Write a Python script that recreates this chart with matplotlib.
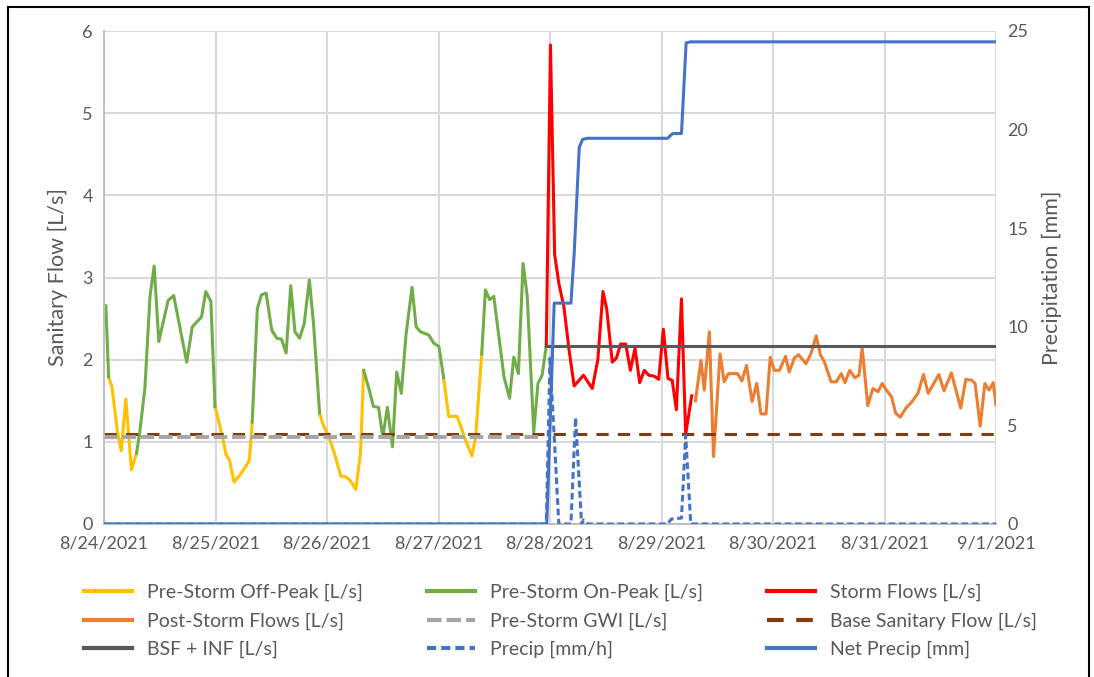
import numpy as np
import matplotlib
matplotlib.use('Agg')
import matplotlib.pyplot as plt
import matplotlib.dates as mdates
from matplotlib.patches import Rectangle
from datetime import datetime

plt.rcParams['font.family'] = ['Lato', 'DejaVu Sans']

start = datetime(2021, 8, 24)

# Flow series: each inner list is one continuous run, times in hours from 8/24 00:00
offpeak_hours = [[1.0, 1.7, 2.9, 3.7, 4.7, 5.9, 7.0],
                 [23.9, 25.0, 26.3, 27.0, 28.0, 29.3, 30.5, 31.3, 31.9],
                 [46.4, 47.2, 48.3, 49.8, 51.0, 51.9, 53.0, 54.2, 55.2, 55.9],
                 [73.1, 74.2, 76.0, 77.1, 77.8, 79.2, 80.0, 81.3]]
offpeak_flow = [[1.79, 1.67, 1.12, 0.89, 1.52, 0.66, 0.86],
                [1.43, 1.18, 0.84, 0.78, 0.51, 0.60, 0.70, 0.78, 1.24],
                [1.35, 1.20, 1.08, 0.82, 0.58, 0.58, 0.53, 0.42, 0.86, 1.87],
                [1.78, 1.31, 1.31, 1.14, 1.02, 0.83, 1.06, 2.07]]

onpeak_hours = [[0.0, 0.4, 1.0],
                [7.0, 7.7, 8.8, 9.9, 10.8, 11.8, 13.8, 15.0, 17.8, 19.0, 21.0, 21.9, 23.0, 23.9],
                [31.9, 33.0, 33.9, 34.9, 36.1, 37.2, 38.2, 39.2, 40.2, 41.1, 42.1, 43.1, 44.2, 45.1, 46.4],
                [55.9, 57.1, 58.0, 59.1, 60.0, 61.0, 62.1, 63.0, 64.0, 65.0, 66.3, 67.2, 68.1, 69.9,
                 71.0, 72.1, 73.1],
                [81.3, 82.1, 83.0, 83.9, 85.0, 86.1, 87.3, 88.2, 89.2, 90.2, 91.1, 92.5, 93.4, 94.3, 95.2]]
onpeak_flow = [[2.60, 2.66, 1.79],
               [0.86, 1.12, 1.65, 2.77, 3.14, 2.22, 2.72, 2.78, 1.97, 2.40, 2.52, 2.83, 2.71, 1.43],
               [1.24, 2.62, 2.79, 2.81, 2.36, 2.26, 2.25, 2.08, 2.90, 2.34, 2.26, 2.44, 2.97, 2.44, 1.35],
               [1.87, 1.63, 1.43, 1.42, 1.06, 1.42, 0.94, 1.85, 1.59, 2.30, 2.88, 2.40, 2.34, 2.30,
                2.20, 2.16, 1.78],
               [2.07, 2.85, 2.73, 2.77, 2.28, 1.79, 1.53, 2.03, 1.83, 3.17, 2.77, 1.12, 1.71, 1.81, 2.17]]

storm_hours = [95.2, 96.1, 97.0, 97.9, 99.0, 100.1, 101.2, 103.2, 105.1, 106.3, 107.4, 108.2,
               109.4, 110.3, 111.2, 112.3, 113.3, 114.3, 115.3, 116.3, 117.3, 118.4, 119.4,
               120.4, 121.4, 122.3, 123.2, 124.3, 125.2, 126.5]
storm_flow = [2.17, 5.83, 3.28, 2.93, 2.64, 2.12, 1.68, 1.81, 1.65, 2.00, 2.83, 2.62,
              1.97, 2.02, 2.19, 2.19, 1.87, 2.14, 1.72, 1.87, 1.81, 1.80, 1.76,
              2.37, 1.77, 1.75, 1.39, 2.74, 1.09, 1.56]

post_hours = [127.3, 128.5, 129.2, 130.3, 131.2, 132.6, 133.5, 134.4, 136.4, 137.3, 138.3, 139.5,
              140.5, 141.4, 142.5, 143.4, 144.3, 145.4, 146.7, 147.5, 148.6, 149.5, 151.1, 152.2,
              153.3, 154.2, 155.1, 156.5, 157.6, 158.7, 159.5, 160.5, 161.6, 162.5, 163.2, 164.4,
              165.5, 166.6, 167.5, 168.4, 169.5, 170.4, 171.4, 172.6, 173.8, 175.2, 176.4, 177.4,
              179.7, 180.8, 182.4, 184.4, 185.5, 186.8, 187.5, 188.6, 189.6, 190.5, 191.4, 192.0]
post_flow = [1.50, 1.99, 1.63, 2.34, 0.82, 2.07, 1.73, 1.83, 1.83, 1.74, 1.93, 1.49,
             1.71, 1.34, 1.34, 2.03, 1.87, 1.87, 2.04, 1.85, 2.02, 2.06, 1.95, 2.08,
             2.29, 2.06, 1.97, 1.73, 1.73, 1.83, 1.72, 1.87, 1.78, 1.81, 2.14, 1.44,
             1.65, 1.61, 1.71, 1.63, 1.55, 1.35, 1.30, 1.41, 1.48, 1.59, 1.82, 1.59,
             1.82, 1.62, 1.84, 1.41, 1.76, 1.75, 1.71, 1.19, 1.71, 1.63, 1.72, 1.45]

# Reference levels
gwi_hours, gwi_flow = [0.0, 94.3], [1.06, 1.06]
bsf_hours, bsf_flow = [0.0, 192.0], [1.10, 1.10]
bsf_inf_hours, bsf_inf_flow = [95.2, 192.0], [2.17, 2.17]

# Rainfall (right axis)
precip_hours = [0.0, 95.2, 96.0, 97.0, 97.9, 100.5, 101.5, 102.8, 103.2, 104.2,
                121.3, 122.1, 124.3, 125.2, 126.3, 192.0]
precip_rate = [0.0, 0.0, 8.4, 4.0, 0.0, 0.0, 5.4, 0.0, 0.2, 0.0,
               0.0, 0.25, 0.3, 4.5, 0.0, 0.0]
net_hours = [0.0, 95.3, 96.9, 100.5, 101.2, 102.3, 103.0, 104.0, 121.3, 122.4, 124.3, 125.3, 126.3, 192.0]
net_precip = [0.0, 0.0, 11.2, 11.2, 13.7, 19.1, 19.5, 19.56, 19.56, 19.8, 19.8, 24.4, 24.45, 24.45]

day_labels = ['8/24/2021', '8/25/2021', '8/26/2021', '8/27/2021', '8/28/2021',
              '8/29/2021', '8/30/2021', '8/31/2021', '9/1/2021']

t0 = mdates.date2num(start)


def to_x(hours):
    return t0 + np.asarray(hours, dtype=float) / 24.0


def join(runs_h, runs_v):
    # stitch the runs together, NaN keeps them as separate pieces
    xs, ys = [], []
    for h, v in zip(runs_h, runs_v):
        xs += list(h) + [h[-1]]
        ys += list(v) + [np.nan]
    return to_x(xs), np.array(ys)


c_off = '#FFC000'
c_on = '#70AD47'
c_storm = '#FF0000'
c_post = '#ED7D31'
c_gwi = '#A5A5A5'
c_bsf = '#843C0C'
c_inf = '#595959'
c_blue = '#4472C4'
txt = '#595959'
lw = 2.2

fig = plt.figure(figsize=(10.94, 6.77), dpi=100)
ax = fig.add_axes([104 / 1094, 1 - 524 / 677, (996 - 104) / 1094, (524 - 31) / 677])
ax2 = ax.twinx()

x, y = join(offpeak_hours, offpeak_flow)
l_off, = ax.plot(x, y, color=c_off, lw=lw, label='Pre-Storm Off-Peak [L/s]')
x, y = join(onpeak_hours, onpeak_flow)
l_on, = ax.plot(x, y, color=c_on, lw=lw, label='Pre-Storm On-Peak [L/s]')
l_storm, = ax.plot(to_x(storm_hours), storm_flow, color=c_storm, lw=lw, label='Storm Flows [L/s]')
l_post, = ax.plot(to_x(post_hours), post_flow, color=c_post, lw=lw, label='Post-Storm Flows [L/s]')
l_bsf, = ax.plot(to_x(bsf_hours), bsf_flow, color=c_bsf, lw=lw, dashes=(4, 3),
                 label='Base Sanitary Flow [L/s]')
l_gwi, = ax.plot(to_x(gwi_hours), gwi_flow, color=c_gwi, lw=lw + 0.6, dashes=(3.5, 1.2),
                 label='Pre-Storm GWI [L/s]')
l_inf, = ax.plot(to_x(bsf_inf_hours), bsf_inf_flow, color=c_inf, lw=lw, label='BSF + INF [L/s]')

l_pre, = ax2.plot(to_x(precip_hours), precip_rate, color=c_blue, lw=lw, dashes=(2.2, 1.2),
                  label='Precip [mm/h]')
l_net, = ax2.plot(to_x(net_hours), net_precip, color=c_blue, lw=lw, label='Net Precip [mm]')

ax.set_xlim(to_x([0, 192]))
ax.set_ylim(0, 6)
ax2.set_ylim(0, 25)
ax.set_yticks(range(0, 7))
ax2.set_yticks(range(0, 26, 5))
ax.set_xticks(to_x(np.arange(0, 193, 24)))
ax.set_xticklabels(day_labels)

ax.grid(True, color='#D9D9D9', lw=1.5)
ax.set_axisbelow(True)
for a in (ax, ax2):
    a.tick_params(length=0, labelsize=13, colors=txt, pad=8)
    for s in a.spines.values():
        s.set_visible(False)
for side in ('bottom', 'left'):
    ax.spines[side].set_visible(True)
    ax.spines[side].set_color('#BFBFBF')
    ax.spines[side].set_linewidth(1.5)

ax.set_ylabel('Sanitary Flow [L/s]', fontsize=15.5, color=txt, labelpad=10)
ax2.set_ylabel('Precipitation [mm]', fontsize=15.5, color=txt, labelpad=10)

# legend is filled column by column, so order handles to read row-wise
handles = [l_off, l_post, l_inf, l_on, l_gwi, l_pre, l_storm, l_bsf, l_net]
leg = fig.legend(handles=handles, labels=[h.get_label() for h in handles], ncol=3,
                 loc='upper left', bbox_to_anchor=(84 / 1094, 1 - 584 / 677),
                 frameon=False, fontsize=14, handlelength=2.47, handletextpad=0.77,
                 columnspacing=3.3, labelspacing=0.56, borderpad=0, borderaxespad=0)
for t in leg.get_texts():
    t.set_color(txt)
for h in leg.legend_handles:
    h.set_linewidth(3)

fig.patches.append(Rectangle((8 / 1094, -0.1), (1089 - 8) / 1094, 1.1 - 7 / 677,
                             transform=fig.transFigure, fill=False, ec='black', lw=1.5))

fig.savefig('out.png', dpi=100)
